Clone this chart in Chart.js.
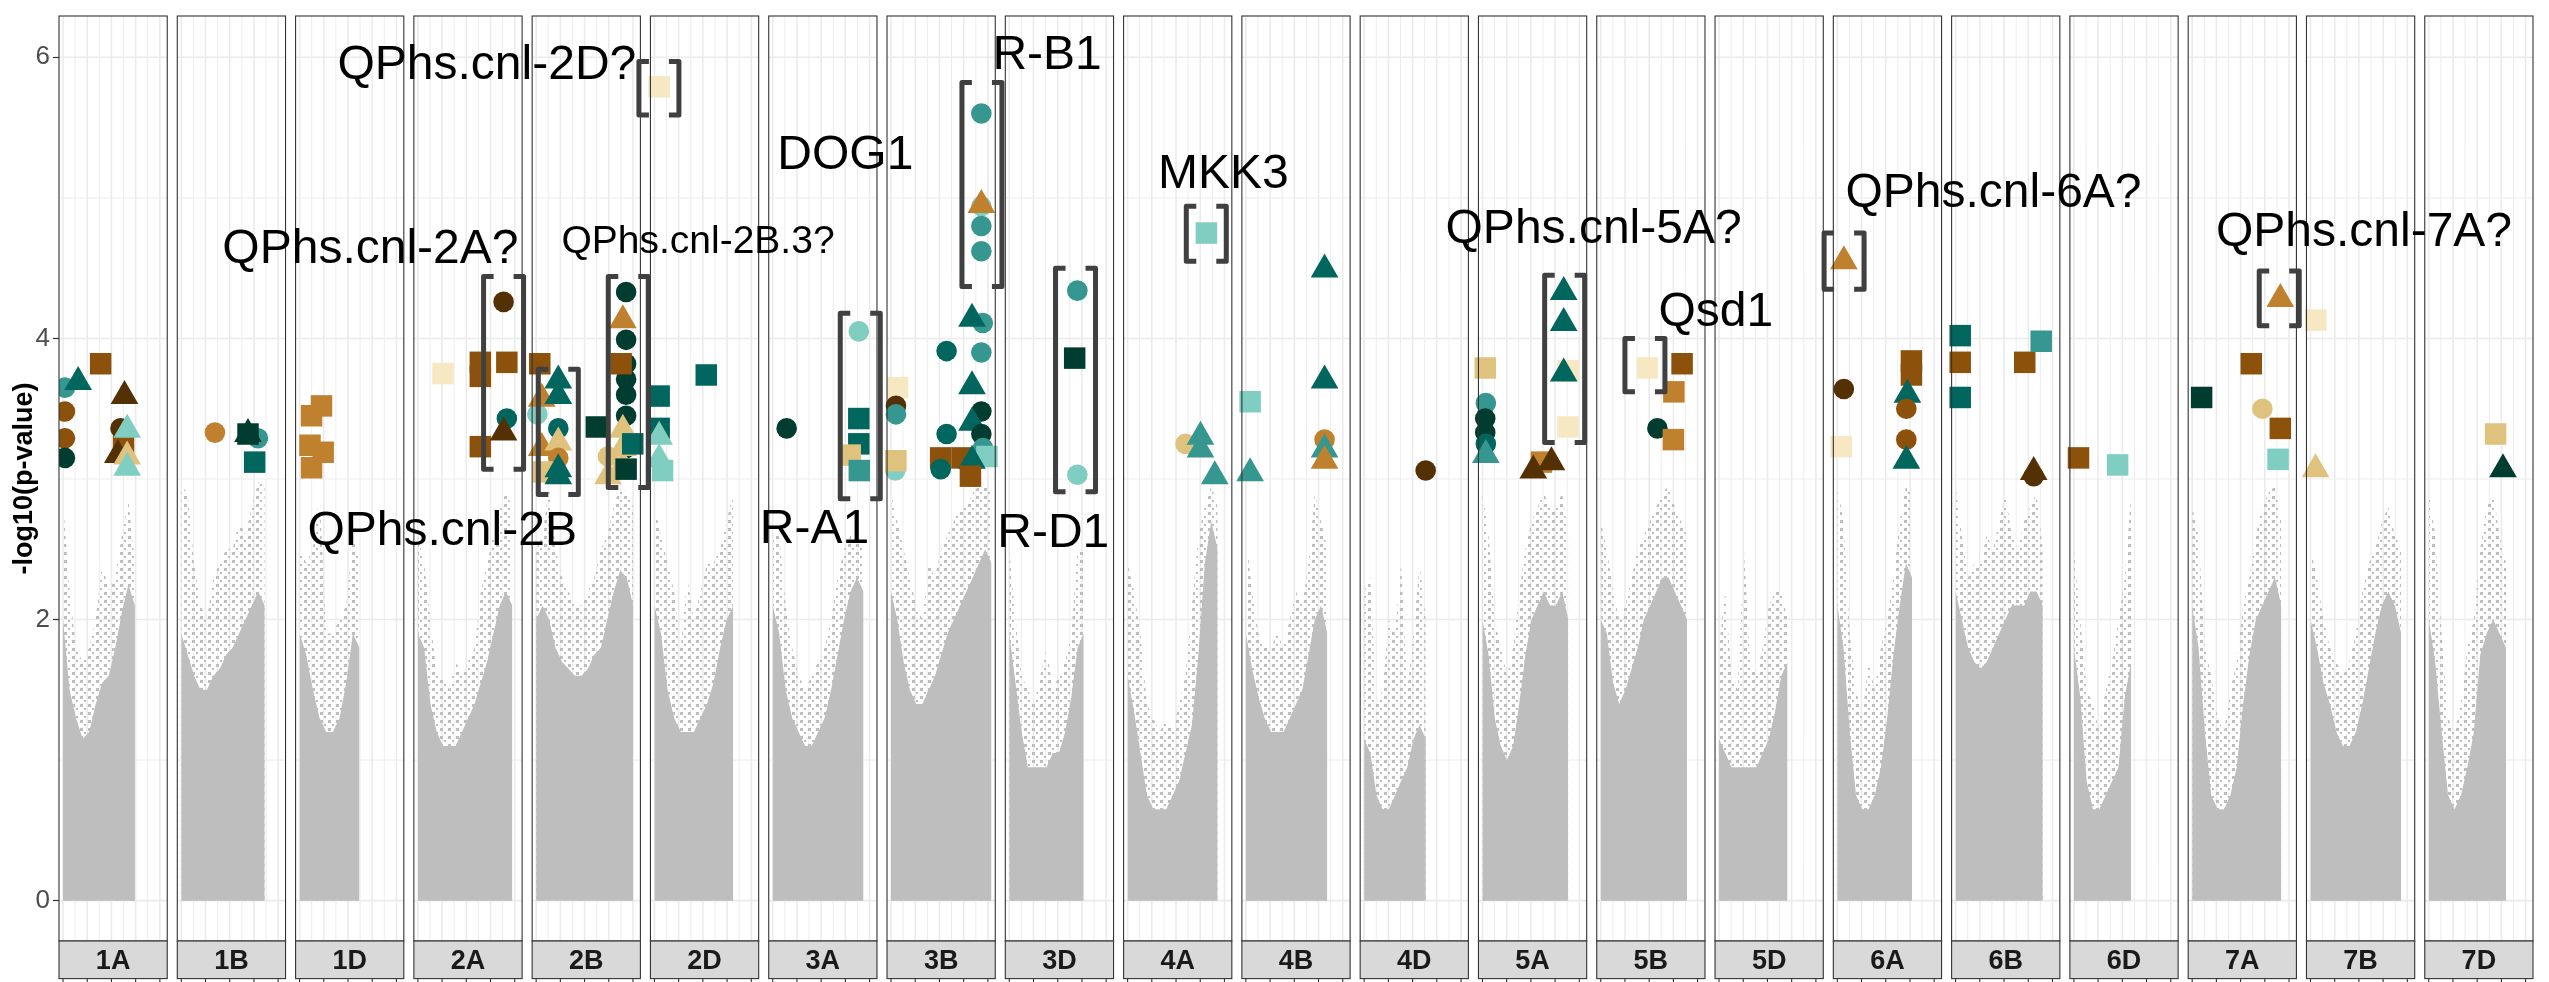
<!DOCTYPE html>
<html>
<head>
<meta charset="utf-8">
<title>-log10(p-value) by chromosome</title>
<script src="https://cdn.jsdelivr.net/npm/chart.js@4.4.1/dist/chart.umd.min.js"></script>
<style>
  html, body { margin: 0; padding: 0; background: #fff; }
  #wrap { width: 2549px; height: 982px; position: relative; }
</style>
</head>
<body>
<div id="wrap"><canvas id="manhattan"></canvas></div>
<script>
// ---- data ----
const chromosomes = ['1A','1B','1D','2A','2B','2D','3A','3B','3D','4A','4B','4D','5A','5B','5D','6A','6B','6D','7A','7B','7D'];
const chromLengthMb = [594, 689, 495, 780, 801, 651, 750, 830, 615, 744, 673, 509, 709, 713, 566, 618, 720, 473, 736, 750, 638];
const yTicks = [0, 2, 4, 6];
const xTicksMb = [0, 200, 400, 600, 800];
const xGridMb = [0, 100, 200, 300, 400, 500, 600, 700, 800];

// background SNP cloud, heights sampled evenly along each chromosome
// dense core of the cloud
const cloudDense = [
  [2.0,1.5,1.3,1.15,1.2,1.4,1.55,1.6,1.8,2.05,2.25,2.1],
  [1.9,1.75,1.6,1.5,1.5,1.6,1.65,1.75,1.8,1.9,2.0,2.1,2.2,2.1],
  [1.9,1.75,1.5,1.3,1.2,1.2,1.3,1.55,1.9,1.8],
  [1.9,1.8,1.4,1.2,1.1,1.1,1.1,1.2,1.3,1.4,1.55,1.7,1.9,2.1,2.2,2.1],
  [2.0,2.1,2.0,1.8,1.7,1.65,1.6,1.6,1.65,1.75,1.8,2.0,2.2,2.35,2.3,2.1],
  [2.1,1.9,1.5,1.3,1.2,1.2,1.2,1.3,1.4,1.55,1.8,2.0,2.1],
  [2.1,1.9,1.5,1.3,1.2,1.1,1.1,1.2,1.3,1.5,1.75,2.0,2.2,2.3,2.2],
  [2.2,2.0,1.7,1.5,1.4,1.4,1.5,1.6,1.75,1.9,2.0,2.1,2.2,2.3,2.4,2.5,2.4],
  [1.9,1.55,1.2,0.95,0.95,0.95,0.95,1.05,1.05,1.2,1.45,1.8,1.9],
  [1.6,1.35,1.05,0.75,0.65,0.65,0.65,0.75,0.85,1.05,1.25,1.75,2.4,2.7,2.5],
  [1.9,1.65,1.45,1.3,1.2,1.2,1.2,1.3,1.4,1.5,1.75,2.0,2.1,1.9],
  [1.15,1.05,0.75,0.65,0.65,0.75,0.85,0.95,1.15,1.25,1.15],
  [2.0,1.75,1.3,1.1,1.0,1.1,1.4,1.75,2.0,2.1,2.2,2.1,2.1,2.2,2.0],
  [2.0,1.9,1.55,1.4,1.5,1.65,1.8,2.0,2.1,2.2,2.3,2.3,2.2,2.1,2.0],
  [1.15,1.05,0.95,0.95,0.95,0.95,0.95,1.05,1.15,1.35,1.6,1.7],
  [2.1,1.8,1.2,0.75,0.65,0.65,0.75,0.95,1.3,1.75,2.1,2.4,2.3],
  [2.2,2.0,1.8,1.7,1.65,1.7,1.8,1.9,2.0,2.1,2.1,2.1,2.2,2.2,2.1],
  [1.8,1.45,0.85,0.65,0.65,0.75,0.85,0.95,1.45,1.7],
  [2.1,1.8,1.2,0.75,0.65,0.65,0.75,0.95,1.4,1.75,2.0,2.1,2.2,2.3,2.1],
  [2.0,1.8,1.55,1.4,1.2,1.1,1.1,1.2,1.4,1.65,1.9,2.1,2.2,2.1,1.9],
  [2.0,1.7,1.2,0.75,0.65,0.75,0.95,1.2,1.75,1.9,2.0,1.9,1.8]
];
// upper, thinly scattered part of the cloud
const cloudSparse = [
  [2.85,2.2,1.8,1.7,1.8,2.0,2.4,2.2,2.3,2.6,2.85,2.4],
  [2.95,2.9,2.4,2.1,2.0,2.3,2.4,2.5,2.5,2.7,2.6,2.8,2.98,2.95],
  [2.5,2.4,2.5,2.9,1.9,1.9,2.0,2.1,2.6,2.4],
  [2.6,2.4,2.0,1.6,1.6,1.5,1.7,1.6,1.7,1.8,2.2,2.4,2.6,2.8,2.9,2.8],
  [2.5,2.6,2.95,2.5,2.3,2.2,2.1,2.1,2.2,2.3,2.5,2.6,2.8,2.95,2.9,2.8],
  [2.8,2.6,2.4,2.2,1.8,2.3,2.0,2.2,2.4,2.4,2.5,2.7,2.9],
  [2.6,2.6,2.1,1.8,1.6,1.5,1.6,1.7,1.8,2.0,2.3,2.5,2.6,2.6,2.5],
  [2.9,2.7,2.5,2.3,2.1,2.0,2.4,2.3,2.5,2.6,2.7,2.8,2.8,2.9,2.95,2.95,2.9],
  [2.5,2.0,1.6,1.5,1.4,1.6,1.8,1.5,1.6,1.7,1.9,2.5,2.5],
  [2.4,2.2,1.9,1.4,1.3,1.2,1.3,1.2,1.4,1.6,2.1,2.6,2.8,2.95,2.8],
  [2.6,2.2,1.9,1.8,1.8,1.9,1.8,2.0,2.2,2.1,2.4,2.9,2.7,2.5],
  [2.2,2.3,1.4,1.5,2.0,1.9,2.4,1.5,1.9,2.4,2.0],
  [2.9,2.6,2.0,1.8,1.6,1.8,2.2,2.5,2.7,2.8,2.9,2.8,2.8,2.9,2.6],
  [2.7,2.5,2.2,2.0,2.1,2.3,2.5,2.6,2.7,2.8,2.9,2.95,2.8,2.7,2.6],
  [1.8,2.2,1.6,1.5,2.5,1.7,1.6,1.8,2.1,2.2,2.2,2.0],
  [2.95,2.7,1.9,1.5,1.3,1.7,1.5,1.8,2.0,2.3,2.7,2.95,2.9],
  [2.95,2.6,2.3,2.4,2.4,2.6,2.5,2.7,2.9,2.6,2.5,2.7,2.8,2.9,2.5],
  [2.5,2.0,1.5,1.4,1.2,1.5,1.7,2.0,2.3,2.9],
  [2.8,2.6,1.8,1.6,1.3,1.2,1.5,1.7,2.1,2.3,2.6,2.8,2.9,2.95,2.7],
  [2.5,2.3,2.0,1.8,1.7,1.6,1.7,1.9,2.2,2.4,2.5,2.7,2.8,2.6,2.5],
  [2.9,2.6,1.9,1.3,1.2,1.4,1.8,2.0,2.5,2.8,2.9,2.6,2.4]
];

// significant markers (position in Mb, -log10 p, shape, colour group)
const hitChrom = [
  '1A','1A','1A','1A','1A','1A','1A','1A','1A','1A','1A','1A','1A',
  '1B','1B','1B','1B','1B',
  '1D','1D','1D','1D','1D',
  '2A','2A','2A','2A','2A','2A','2A','2A',
  '2B','2B','2B','2B','2B','2B','2B','2B','2B','2B','2B','2B','2B',
  '2B','2B','2B','2B','2B','2B','2B','2B','2B','2B','2B','2B','2B','2B','2B','2B',
  '2D','2D','2D','2D','2D','2D','2D',
  '3A','3A','3A','3A','3A','3A',
  '3B','3B','3B','3B','3B','3B','3B','3B','3B','3B','3B','3B','3B',
  '3B','3B','3B','3B','3B','3B','3B','3B','3B','3B','3B','3B','3B',
  '3D','3D','3D',
  '4A','4A','4A','4A','4A',
  '4B','4B','4B','4B','4B','4B','4B',
  '4D',
  '5A','5A','5A','5A','5A','5A','5A','5A','5A','5A','5A','5A','5A','5A',
  '5B','5B','5B','5B','5B',
  '6A','6A','6A','6A','6A','6A','6A','6A','6A',
  '6B','6B','6B','6B','6B','6B','6B',
  '6D','6D',
  '7A','7A','7A','7A','7A','7A',
  '7B','7B',
  '7D','7D'
];
const hitPos = [
  16,125,311,16,16,16,508,475,500,453,530,530,530,
  278,633,551,551,606,
  181,99,86,195,99,
  208,516,516,735,516,708,735,708,
  30,10,46,183,183,183,46,183,183,60,183,183,497,
  743,716,743,743,743,743,743,702,743,716,716,716,593,593,798,743,
  39,39,428,39,39,39,67,
  115,711,711,711,640,715,
  54,41,41,35,40,746,746,746,746,746,758,669,459,
  746,669,746,669,746,459,760,792,410,587,669,410,656,
  562,540,562,
  651,479,602,602,720,
  35,35,650,650,650,650,650,
  508,
  23,28,23,23,28,28,487,420,570,707,707,671,671,671,
  385,672,604,468,600,
  54,54,32,612,612,579,570,570,570,
  38,38,38,571,707,645,645,
  38,361,
  78,488,580,728,709,728,
  44,42,
  552,613
];
const hitLogP = [
  3.65,3.69,3.82,3.48,3.29,3.15,3.59,3.36,3.23,3.17,3.35,3.16,3.08,
  3.33,3.29,3.32,3.32,3.12,
  3.52,3.45,3.24,3.19,3.08,
  3.75,3.83,3.73,3.83,3.23,4.26,3.43,3.33,
  3.82,3.46,3.57,3.70,3.59,3.36,3.22,3.26,3.15,3.05,3.07,3.02,3.37,
  4.33,4.13,3.99,3.82,3.71,3.60,3.45,3.82,3.22,3.35,3.22,3.10,3.16,3.02,3.25,3.07,
  5.79,3.59,3.74,3.36,3.30,3.14,3.06,
  3.36,4.05,3.43,3.25,3.17,3.06,
  3.65,3.52,3.46,3.06,3.13,5.60,4.94,4.95,4.80,4.62,4.11,4.14,3.91,
  3.90,3.66,3.48,3.40,3.32,3.32,3.22,3.16,3.15,3.15,3.13,3.07,3.02,
  4.34,3.86,3.03,
  4.75,3.25,3.30,3.21,3.02,
  3.55,3.04,4.49,3.70,3.28,3.21,3.13,
  3.06,
  3.79,3.54,3.43,3.33,3.25,3.17,3.12,3.06,3.12,3.77,3.37,4.33,4.11,3.75,
  3.79,3.82,3.62,3.36,3.28,
  4.55,3.64,3.23,3.84,3.74,3.60,3.50,3.28,3.13,
  4.02,3.83,3.58,3.83,3.98,3.02,3.05,
  3.15,3.10,
  3.58,3.82,3.50,3.36,3.14,4.28,
  4.13,3.07,
  3.32,3.07
];
const hitShape = [
  'c','t','s','c','c','c','t','c','s','t','t','t','t',
  'c','c','s','t','s',
  's','s','s','s','s',
  's','s','s','s','s','c','c','t',
  's','c','t','t','t','c','t','t','c','s','t','t','s',
  'c','t','c','c','c','c','c','s','c','t','t','t','c','t','s','s',
  's','s','s','s','t','t','s',
  'c','c','s','s','s','s',
  's','c','c','c','s','c','c','t','c','c','c','t','c',
  'c','t','c','t','c','c','c','s','s','s','t','c','s',
  'c','s','c',
  's','c','t','t','t',
  's','t','t','t','c','t','t',
  'c',
  's','c','c','c','c','t','s','t','t','s','s','t','t','t',
  's','s','s','c','s',
  't','c','s','s','s','t','c','c','t',
  's','s','s','s','s','c','t',
  's','s',
  's','s','c','s','s','t',
  's','t',
  's','t'
];
const hitGroup = [
  6,7,1,1,1,8,0,0,1,0,5,3,5,
  2,6,8,8,7,
  2,2,2,2,2,
  4,1,1,1,1,0,7,0,
  1,5,2,7,7,7,2,3,2,3,7,7,8,
  8,2,8,8,8,8,8,1,8,3,3,3,3,3,7,8,
  4,7,7,7,5,5,5,
  8,5,7,7,3,6,
  4,0,6,5,3,6,5,2,6,6,6,7,7,
  6,7,8,7,8,7,6,5,1,1,7,7,1,
  6,8,5,
  5,3,6,6,6,
  5,6,7,7,2,6,2,
  0,
  3,6,8,8,7,6,2,0,0,4,4,7,7,7,
  4,1,2,8,2,
  2,0,4,1,1,7,1,1,7,
  7,1,7,1,6,0,0,
  1,5,
  8,1,3,1,5,2,
  4,3,
  3,8
];
const groupColors = ['#543005','#8C510A','#BF812D','#DFC27D','#F6E8C3','#80CDC1','#35978F','#01665E','#003C30'];

// candidate-region brackets (centre in Mb, -log10 p span)
const bracketChrom = ['2D','2A','2B','2B','3A','3B','3D','4A','5A','5B','6A','7A'];
const bracketPos   = [37, 708, 183, 761, 723, 751, 547, 650, 679, 365, 56, 719];
const bracketLow   = [5.59, 3.07, 2.89, 2.94, 2.86, 4.37, 2.91, 4.55, 3.26, 3.62, 4.35, 4.09];
const bracketHigh  = [5.97, 4.44, 3.78, 4.44, 4.18, 5.82, 4.50, 4.94, 4.45, 4.00, 4.75, 4.48];

// locus names
const labelText  = ['QPhs.cnl-2D?','QPhs.cnl-2A?','QPhs.cnl-2B.3?','QPhs.cnl-2B','DOG1','R-A1','R-B1','R-D1','MKK3','QPhs.cnl-5A?','Qsd1','QPhs.cnl-6A?','QPhs.cnl-7A?'];
const labelChrom = ['2A','1D','2D','2A','3A','3A','3D','3D','4A','5A','5B','6B','7B'];
const labelPos   = [570, 585, 360, 201, 600, 345, 312, 363, 791, 918, 950, 313, 442];
const labelLogP  = [5.97, 4.66, 4.71, 2.65, 5.33, 2.67, 6.04, 2.64, 5.19, 4.80, 4.21, 5.06, 4.78];

// ---- layout helpers ----
const FONT = "'Liberation Sans', Arial, Helvetica, sans-serif";
const PANEL_MIN = -33, PANEL_MAX = 861, PANEL_GAP = 83;
const PANEL_SPAN = PANEL_MAX - PANEL_MIN;
const PANEL_PITCH = PANEL_SPAN + PANEL_GAP;
const X_MAX = (chromosomes.length - 1) * PANEL_PITCH + PANEL_SPAN;
const Y_MIN = -0.287, Y_MAX = 6.294;
const STRIP_H = 37.6;

const chromIndex = name => chromosomes.indexOf(name);
const gx = (chrom, mb) => chromIndex(chrom) * PANEL_PITCH + (mb - PANEL_MIN);

function cloudPoints(i, heights) {
  const len = chromLengthMb[i];
  const n = heights.length;
  return heights.map((h, k) => ({ x: i * PANEL_PITCH + (len * k / (n - 1) - PANEL_MIN), y: h }));
}

const canvas = document.getElementById('manhattan');

// dotted fill for the thin upper part of the cloud
function dotPattern() {
  const tile = document.createElement('canvas');
  tile.width = 8; tile.height = 8;
  const g = tile.getContext('2d');
  g.fillStyle = '#bebebe';
  g.fillRect(0, 0, 3, 3);
  g.fillRect(4, 4, 2, 2);
  return canvas.getContext('2d').createPattern(tile, 'repeat');
}
const sparseFill = dotPattern();

const shapeStyle = { c: 'circle', t: 'triangle', s: 'rect' };
const shapeRadius = { c: 10.3, t: 16, s: 15.2 };

const cloudSets = [];
chromosomes.forEach((c, i) => {
  cloudSets.push({
    type: 'line', data: cloudPoints(i, cloudSparse[i]),
    backgroundColor: sparseFill, borderColor: 'rgba(0,0,0,0)', borderWidth: 0,
    pointRadius: 0, fill: 'origin', tension: 0, order: 3
  });
  cloudSets.push({
    type: 'line', data: cloudPoints(i, cloudDense[i]),
    backgroundColor: '#bebebe', borderColor: 'rgba(0,0,0,0)', borderWidth: 0,
    pointRadius: 0, fill: 'origin', tension: 0, order: 2
  });
});

const hitSet = {
  type: 'scatter',
  data: hitPos.map((p, k) => ({ x: gx(hitChrom[k], p), y: hitLogP[k] })),
  pointStyle: hitShape.map(s => shapeStyle[s]),
  pointRadius: hitShape.map(s => shapeRadius[s]),
  backgroundColor: hitGroup.map(g => groupColors[g]),
  borderWidth: 0,
  order: 0
};

// panel frames, grid, strips, brackets and locus names
const facetPlugin = {
  id: 'facets',
  beforeDatasetsDraw(chart) {
    const { ctx, chartArea: area, scales: { x, y } } = chart;
    ctx.save();
    chromosomes.forEach((c, i) => {
      const x0 = x.getPixelForValue(i * PANEL_PITCH);
      const x1 = x.getPixelForValue(i * PANEL_PITCH + PANEL_SPAN);
      ctx.strokeStyle = '#EBEBEB';
      [1, 3, 5].forEach(v => {
        const py = y.getPixelForValue(v);
        ctx.lineWidth = 0.9;
        ctx.beginPath(); ctx.moveTo(x0, py); ctx.lineTo(x1, py); ctx.stroke();
      });
      yTicks.forEach(v => {
        const py = y.getPixelForValue(v);
        ctx.lineWidth = 1.6;
        ctx.beginPath(); ctx.moveTo(x0, py); ctx.lineTo(x1, py); ctx.stroke();
      });
      xGridMb.forEach(mb => {
        const px = x.getPixelForValue(i * PANEL_PITCH + mb - PANEL_MIN);
        ctx.lineWidth = xTicksMb.includes(mb) ? 1.6 : 0.9;
        ctx.beginPath(); ctx.moveTo(px, area.top); ctx.lineTo(px, area.bottom); ctx.stroke();
      });
    });
    ctx.restore();
  },
  afterDatasetsDraw(chart) {
    const { ctx, chartArea: area, scales: { x, y } } = chart;
    ctx.save();
    chromosomes.forEach((c, i) => {
      const x0 = x.getPixelForValue(i * PANEL_PITCH);
      const x1 = x.getPixelForValue(i * PANEL_PITCH + PANEL_SPAN);
      ctx.strokeStyle = '#333333';
      ctx.lineWidth = 1.1;
      ctx.strokeRect(x0, area.top, x1 - x0, area.bottom - area.top);
      // strip below the panel
      ctx.fillStyle = '#D9D9D9';
      ctx.fillRect(x0, area.bottom, x1 - x0, STRIP_H);
      ctx.strokeRect(x0, area.bottom, x1 - x0, STRIP_H);
      ctx.fillStyle = '#1A1A1A';
      ctx.font = `bold 27px ${FONT}`;
      ctx.textAlign = 'center';
      ctx.textBaseline = 'alphabetic';
      ctx.fillText(c, (x0 + x1) / 2, area.bottom + STRIP_H / 2 + 27 * 0.358);
      // x ticks under the strip
      xTicksMb.forEach(mb => {
        const px = x.getPixelForValue(i * PANEL_PITCH + mb - PANEL_MIN);
        ctx.beginPath();
        ctx.moveTo(px, area.bottom + STRIP_H);
        ctx.lineTo(px, area.bottom + STRIP_H + 6);
        ctx.stroke();
      });
    });

    // brackets around candidate regions
    ctx.strokeStyle = '#404040';
    ctx.lineWidth = 5;
    ctx.lineJoin = 'round';
    const half = 20, serif = 10;
    bracketPos.forEach((mb, k) => {
      const cx = x.getPixelForValue(gx(bracketChrom[k], mb));
      const top = y.getPixelForValue(bracketHigh[k]);
      const bot = y.getPixelForValue(bracketLow[k]);
      ctx.beginPath();
      ctx.moveTo(cx - half + serif, top);
      ctx.lineTo(cx - half, top);
      ctx.lineTo(cx - half, bot);
      ctx.lineTo(cx - half + serif, bot);
      ctx.stroke();
      ctx.beginPath();
      ctx.moveTo(cx + half - serif, top);
      ctx.lineTo(cx + half, top);
      ctx.lineTo(cx + half, bot);
      ctx.lineTo(cx + half - serif, bot);
      ctx.stroke();
    });

    // locus names
    ctx.fillStyle = '#000000';
    ctx.textAlign = 'center';
    ctx.textBaseline = 'alphabetic';
    labelText.forEach((t, k) => {
      const size = t === 'QPhs.cnl-2B.3?' ? 39 : 48;
      ctx.font = `${size}px ${FONT}`;
      const px = x.getPixelForValue(gx(labelChrom[k], labelPos[k]));
      const py = y.getPixelForValue(labelLogP[k]);
      ctx.fillText(t, px, py + size * 0.358);
    });
    ctx.restore();
  }
};

new Chart(canvas, {
  type: 'scatter',
  data: { datasets: [hitSet, ...cloudSets] },
  options: {
    responsive: true,
    maintainAspectRatio: false,
    animation: false,
    devicePixelRatio: 1,
    events: [],
    layout: { padding: { top: 8, right: 0, bottom: 41, left: 0 } },
    plugins: { legend: { display: false }, tooltip: { enabled: false } },
    scales: {
      x: { type: 'linear', min: 0, max: X_MAX, display: false },
      y: {
        type: 'linear',
        min: Y_MIN,
        max: Y_MAX,
        afterBuildTicks: s => { s.ticks = yTicks.map(v => ({ value: v })); },
        afterFit: s => { s.width = 59; s.paddingTop = 0; s.paddingBottom = 0; },
        border: { display: false },
        grid: { drawOnChartArea: false, drawTicks: true, tickLength: 6, tickColor: '#333333', tickWidth: 1.2 },
        ticks: { color: '#4D4D4D', padding: 3, font: { family: FONT, size: 26 } },
        title: {
          display: true,
          text: '-log10(p-value)',
          color: '#000000',
          padding: { top: 8, bottom: 0 },
          font: { family: FONT, size: 27, weight: 'bold' }
        }
      }
    }
  },
  plugins: [facetPlugin]
});
</script>
</body>
</html>
